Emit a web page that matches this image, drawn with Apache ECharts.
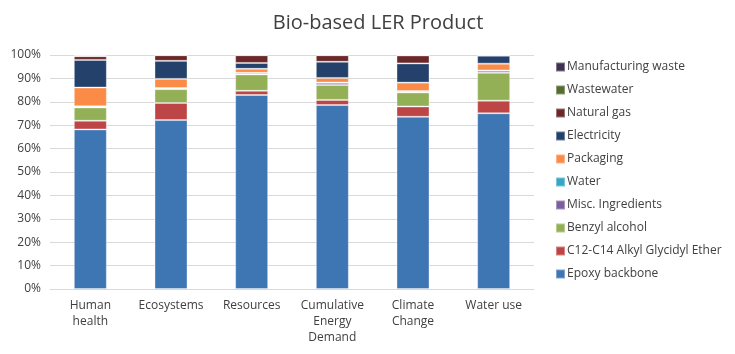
<!DOCTYPE html>
<html>
<head>
<meta charset="utf-8">
<script src="https://cdn.jsdelivr.net/npm/echarts@6/dist/echarts.min.js"></script>
<style>
  html, body { margin: 0; padding: 0; background: #fff; }
  #chart { width: 735px; height: 354px; }
</style>
</head>
<body>
<div id="chart"></div>
<script>
// categories along the x axis
var categories = ['Human\nhealth', 'Ecosystems', 'Resources', 'Cumulative\nEnergy\nDemand', 'Climate\nChange', 'Water use']

// share of each contributor, in percent
var epoxyBackbone = [68.2, 72.2, 82.9, 78.6, 73.6, 75.1]
var alkylEther = [3.7, 7.3, 1.8, 2.2, 4.4, 5.4]
var benzylAlcohol = [5.7, 5.9, 7.0, 6.4, 6.0, 11.9]
var miscIngredients = [0.4, 0.4, 0.6, 0.9, 0.5, 0.9]
var water = [0.1, 0.1, 0.1, 0.1, 0.1, 0.1]
var packaging = [8.0, 3.9, 1.7, 2.0, 3.6, 2.9]
var electricity = [11.8, 7.7, 2.5, 6.9, 8.2, 3.4]
var naturalGas = [1.6, 2.4, 3.3, 2.8, 3.4, 0.3]
var wastewater = [0.1, 0.0, 0.0, 0.0, 0.0, 0.0]
var manufacturingWaste = [0.4, 0.1, 0.1, 0.1, 0.2, 0.0]

var yTicks = [0, 10, 20, 30, 40, 50, 60, 70, 80, 90, 100]

var seriesDefs = [
  { name: 'Epoxy backbone', data: epoxyBackbone, color: '#3e75b3' },
  { name: 'C12-C14 Alkyl Glycidyl Ether', data: alkylEther, color: '#bd4545' },
  { name: 'Benzyl alcohol', data: benzylAlcohol, color: '#93b057' },
  { name: 'Misc. Ingredients', data: miscIngredients, color: '#7b5fa0' },
  { name: 'Water', data: water, color: '#35a6c4' },
  { name: 'Packaging', data: packaging, color: '#fb8b47' },
  { name: 'Electricity', data: electricity, color: '#23416a' },
  { name: 'Natural gas', data: naturalGas, color: '#6c2828' },
  { name: 'Wastewater', data: wastewater, color: '#556b2f' },
  { name: 'Manufacturing waste', data: manufacturingWaste, color: '#3f3151' }
]

var chart = echarts.init(document.getElementById('chart'))

chart.setOption({
  animation: false,
  backgroundColor: '#fff',
  title: {
    text: 'Bio-based LER Product',
    left: 373,
    textAlign: 'center',
    top: 8,
    textStyle: {
      fontFamily: 'Open Sans',
      fontSize: 20,
      fontWeight: 'normal',
      color: '#404040'
    }
  },
  legend: {
    orient: 'vertical',
    left: 550,
    top: 55,
    itemWidth: 9,
    itemHeight: 9,
    itemGap: 9,
    icon: 'rect',
    data: seriesDefs.map(function(s) { return s.name }).reverse(),
    textStyle: {
      fontFamily: 'Open Sans',
      fontSize: 12,
      lineHeight: 14,
      color: '#404040',
      padding: [0, 0, 0, -3]
    }
  },
  grid: {
    left: 50,
    right: 201,
    top: 55,
    bottom: 65
  },
  xAxis: {
    type: 'category',
    data: categories,
    axisTick: { show: false },
    axisLine: { lineStyle: { color: '#d9d9d9' } },
    axisLabel: {
      interval: 0,
      fontFamily: 'Open Sans',
      fontSize: 12,
      color: '#404040',
      lineHeight: 16,
      margin: 9
    }
  },
  yAxis: {
    type: 'value',
    min: yTicks[0],
    max: yTicks[yTicks.length - 1],
    interval: 10,
    axisLine: { show: false },
    axisTick: { show: false },
    splitLine: { lineStyle: { color: '#d9d9d9' } },
    axisLabel: {
      formatter: '{value}%',
      fontFamily: 'Open Sans',
      fontSize: 12,
      color: '#404040',
      margin: 9
    }
  },
  series: seriesDefs.map(function(s) {
    return {
      name: s.name,
      type: 'bar',
      stack: 'total',
      barWidth: 33,
      data: s.data,
      itemStyle: {
        color: s.color,
        borderColor: 'rgba(255,255,255,0.35)',
        borderWidth: 1
      }
    }
  })
})
</script>
</body>
</html>
